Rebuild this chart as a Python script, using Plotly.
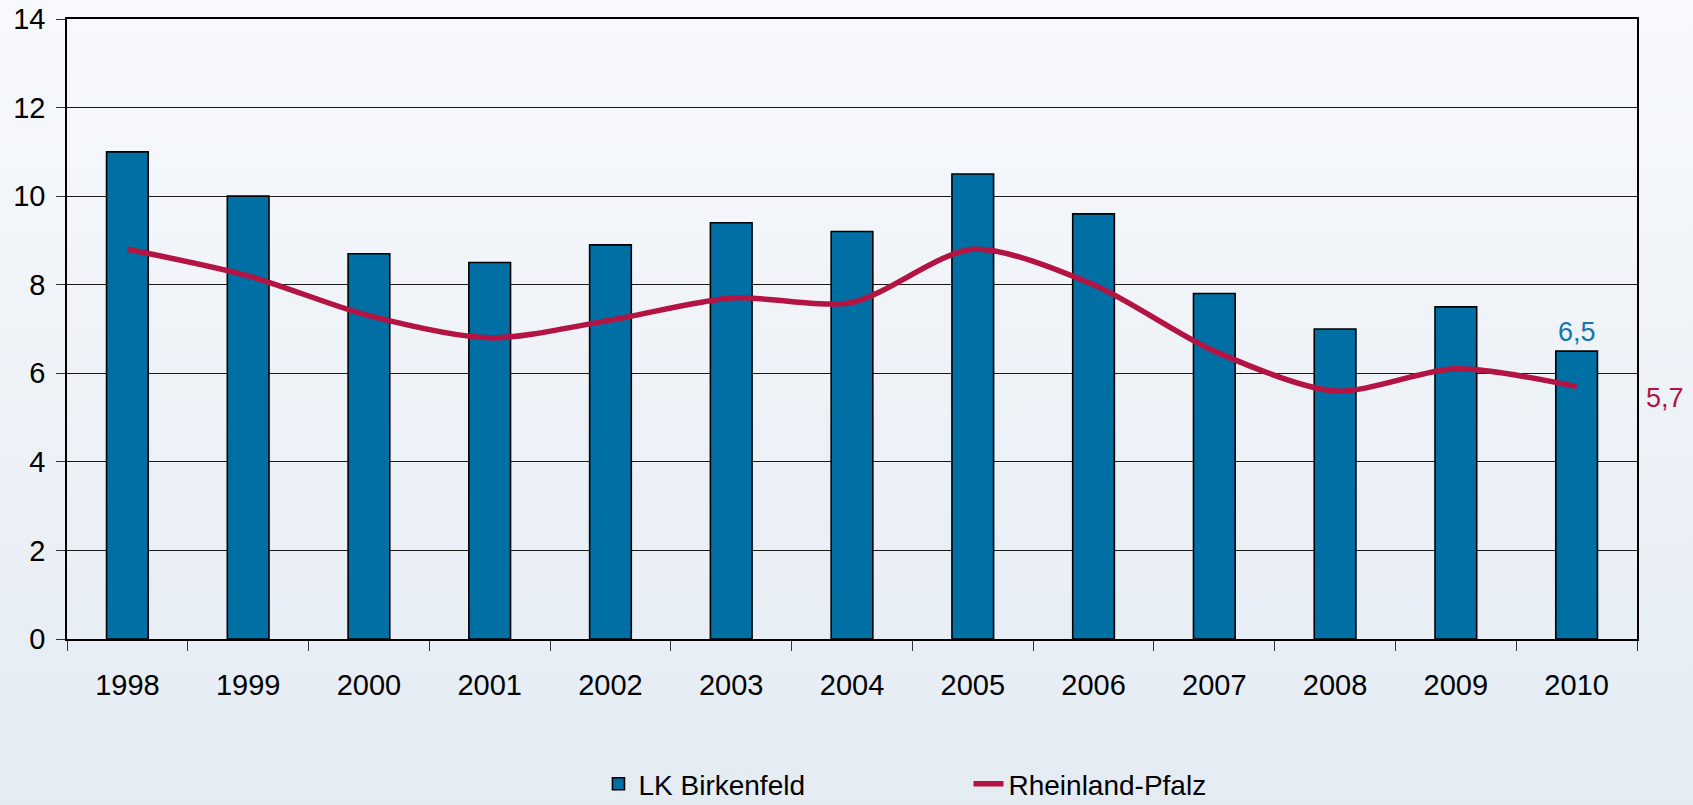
import base64
import plotly.graph_objects as go

years = ["1998", "1999", "2000", "2001", "2002", "2003", "2004",
         "2005", "2006", "2007", "2008", "2009", "2010"]
birkenfeld = [11.0, 10.0, 8.7, 8.5, 8.9, 9.4, 9.2, 10.5, 9.6, 7.8, 7.0, 7.5, 6.5]
rlp = [8.8, 8.2, 7.3, 6.8, 7.2, 7.7, 7.6, 8.8, 8.0, 6.5, 5.6, 6.1, 5.7]
y_ticks = [0, 2, 4, 6, 8, 10, 12, 14]

BAR_COLOR = "#0070A4"
LINE_COLOR = "#B41443"
FONT = "Liberation Sans, Arial, sans-serif"


def de(v):
    return f"{v:.1f}".replace(".", ",")


# soft vertical background gradient (light at top, bluish-grey at bottom)
svg = ('<svg xmlns="http://www.w3.org/2000/svg" width="100" height="100" preserveAspectRatio="none">'
       '<defs><linearGradient id="g" x1="0" y1="0" x2="0" y2="1">'
       '<stop offset="0" stop-color="#F7F9FC"/><stop offset="1" stop-color="#E4EBF3"/>'
       '</linearGradient></defs><rect width="100" height="100" fill="url(#g)"/></svg>')
bg_src = "data:image/svg+xml;base64," + base64.b64encode(svg.encode()).decode()

fig = go.Figure()
fig.add_trace(go.Bar(
    x=years, y=birkenfeld, name="LK Birkenfeld",
    marker=dict(color=BAR_COLOR, line=dict(color="#000000", width=1.6)),
))
fig.add_trace(go.Scatter(
    x=years, y=rlp, name="Rheinland-Pfalz", mode="lines",
    line=dict(color=LINE_COLOR, width=5.5, shape="spline", smoothing=0.8),
))

last = len(years) - 1  # category index of the last year
fig.add_annotation(
    x=last, y=birkenfeld[-1], text=de(birkenfeld[-1]),
    showarrow=False, yanchor="bottom", yshift=2,
    font=dict(size=27, color="#1777AB", family=FONT),
)
fig.add_annotation(
    xref="paper", x=1.018, y=rlp[-1], text=de(rlp[-1]),
    showarrow=False, xanchor="center", yanchor="middle", yshift=-11,
    font=dict(size=27, color=LINE_COLOR, family=FONT),
)

fig.add_layout_image(
    source=bg_src, xref="paper", yref="paper",
    x=-67 / 1570, y=1 + 19 / 620, sizex=1693 / 1570, sizey=805 / 620,
    xanchor="left", yanchor="top", sizing="stretch", layer="below",
)

fig.update_layout(
    width=1693, height=805,
    margin=dict(l=67, r=56, t=19, b=166, autoexpand=False),
    paper_bgcolor="#EDF2F7",
    plot_bgcolor="rgba(0,0,0,0)",
    bargap=0.655,
    font=dict(family=FONT, size=29, color="#000000"),
    showlegend=True,
    legend=dict(
        orientation="h", xref="container", yref="container",
        x=0.3535, xanchor="left", y=0.026, yanchor="middle",
        bgcolor="rgba(0,0,0,0)", font=dict(size=28, family=FONT),
        entrywidth=325, entrywidthmode="pixels", traceorder="normal",
    ),
)
fig.update_xaxes(
    type="category", range=[-0.5, last + 0.5], automargin=False,
    showline=True, mirror=True, linecolor="#000000", linewidth=1.5,
    ticks="outside", tickson="boundaries", ticklen=10, tickcolor="#333333", tickwidth=1.3,
    showgrid=False, tickfont=dict(size=29), ticklabelstandoff=19, tickangle=0,
)
fig.update_yaxes(
    range=[0, 14], tickvals=y_ticks, ticktext=[str(v) for v in y_ticks], automargin=False,
    showline=True, mirror=True, linecolor="#000000", linewidth=1.5,
    showgrid=True, gridcolor="#1a1a1a", gridwidth=1.3,
    ticks="outside", ticklen=9, tickcolor="#333333", tickwidth=1.3,
    tickfont=dict(size=29), ticklabelstandoff=5, zeroline=False,
)

fig.write_html("out.html", config={"displayModeBar": False},
               post_script="document.body.style.margin='0';")
